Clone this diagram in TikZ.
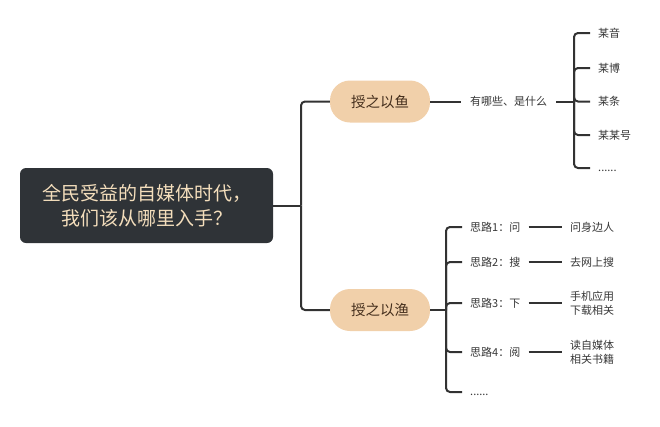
\documentclass[tikz,border=0pt]{standalone}
\usepackage{fontspec}
\setmainfont{Noto Sans CJK SC}
\usetikzlibrary{positioning}
\definecolor{rootgray}{RGB}{47,51,55}
\definecolor{rootgold}{RGB}{244,222,188}
\definecolor{pillsand}{RGB}{241,208,170}
\definecolor{pillbrown}{RGB}{70,48,30}
\definecolor{linegray}{RGB}{50,50,50}
\definecolor{leafgray}{RGB}{55,55,55}

\begin{document}
\begin{tikzpicture}[x=1pt, y=-1pt,
      root/.style={fill=rootgray, rounded corners=6pt, minimum width=253pt,
                   minimum height=75pt, text=rootgold, align=center,
                   font=\fontsize{19}{25}\selectfont},
      pill/.style={fill=pillsand, rounded corners=20pt, minimum width=100pt,
                   minimum height=42pt, text=pillbrown,
                   font=\fontsize{14.5}{17}\selectfont},
      leaf/.style={anchor=west, inner sep=8pt, text=leafgray, align=left,
                   font=\fontsize{11}{14}\selectfont},
      dots/.style={leaf, text height=8pt, text depth=2pt},
      link/.style={draw=linegray, line width=2pt},
      fork/.style={link, rounded corners=4pt}]
    \useasboundingbox (0,0) rectangle (660,426);
    \node[root] (root) at (146.5,205.5) {全民受益的自媒体时代，\\我们该从哪里入手？};
    \node[pill] (yu)  at (380,101.5) {授之以鱼};
    \node[pill] (yu2) at (380,310) {授之以渔};
    \coordinate (trunk) at (301,205.5);
    \draw[link] (root.east) -- (trunk);
    \draw[fork] (trunk) |- (yu.west);
    \draw[fork] (trunk) |- (yu2.west);
    % 鱼
    \node[leaf, inner sep=9pt] (what) at (461,101.5) {有哪些、是什么};
    \draw[link] (yu.east) -- (what.west);
    \coordinate (appfork) at (574,101.5);
    \draw[link] (what.east) -- (appfork);
    \foreach \i/\y/\t in {1/33/某音, 2/68/某博, 3/101.5/某条, 4/135/某某号} {
      \node[leaf] (app\i) at (590,\y) {\t};
      \draw[fork] (appfork) |- (app\i.west);
    }
    \node[dots] (app5) at (590,168) {......};
    \draw[fork] (appfork) |- (app5.west);
    % 渔
    \coordinate (ideafork) at (446,310);
    \draw[link] (yu2.east) -- (ideafork);
    \foreach \i/\y/\t/\w in {1/227/思路1：问/问身边人, 2/262/思路2：搜/去网上搜,
        3/303/思路3：下/手机应用\\下载相关, 4/352/思路4：阅/读自媒体\\相关书籍} {
      \node[leaf] (idea\i) at (462,\y) {\t};
      \node[leaf] (way\i) at (562,\y) {\w};
      \draw[fork] (ideafork) |- (idea\i.west);
      \draw[link] (idea\i.east) -- (way\i.west);
    }
    \node[dots] (idea5) at (462,392) {......};
    \draw[fork] (ideafork) |- (idea5.west);
  \end{tikzpicture}
\end{document}
